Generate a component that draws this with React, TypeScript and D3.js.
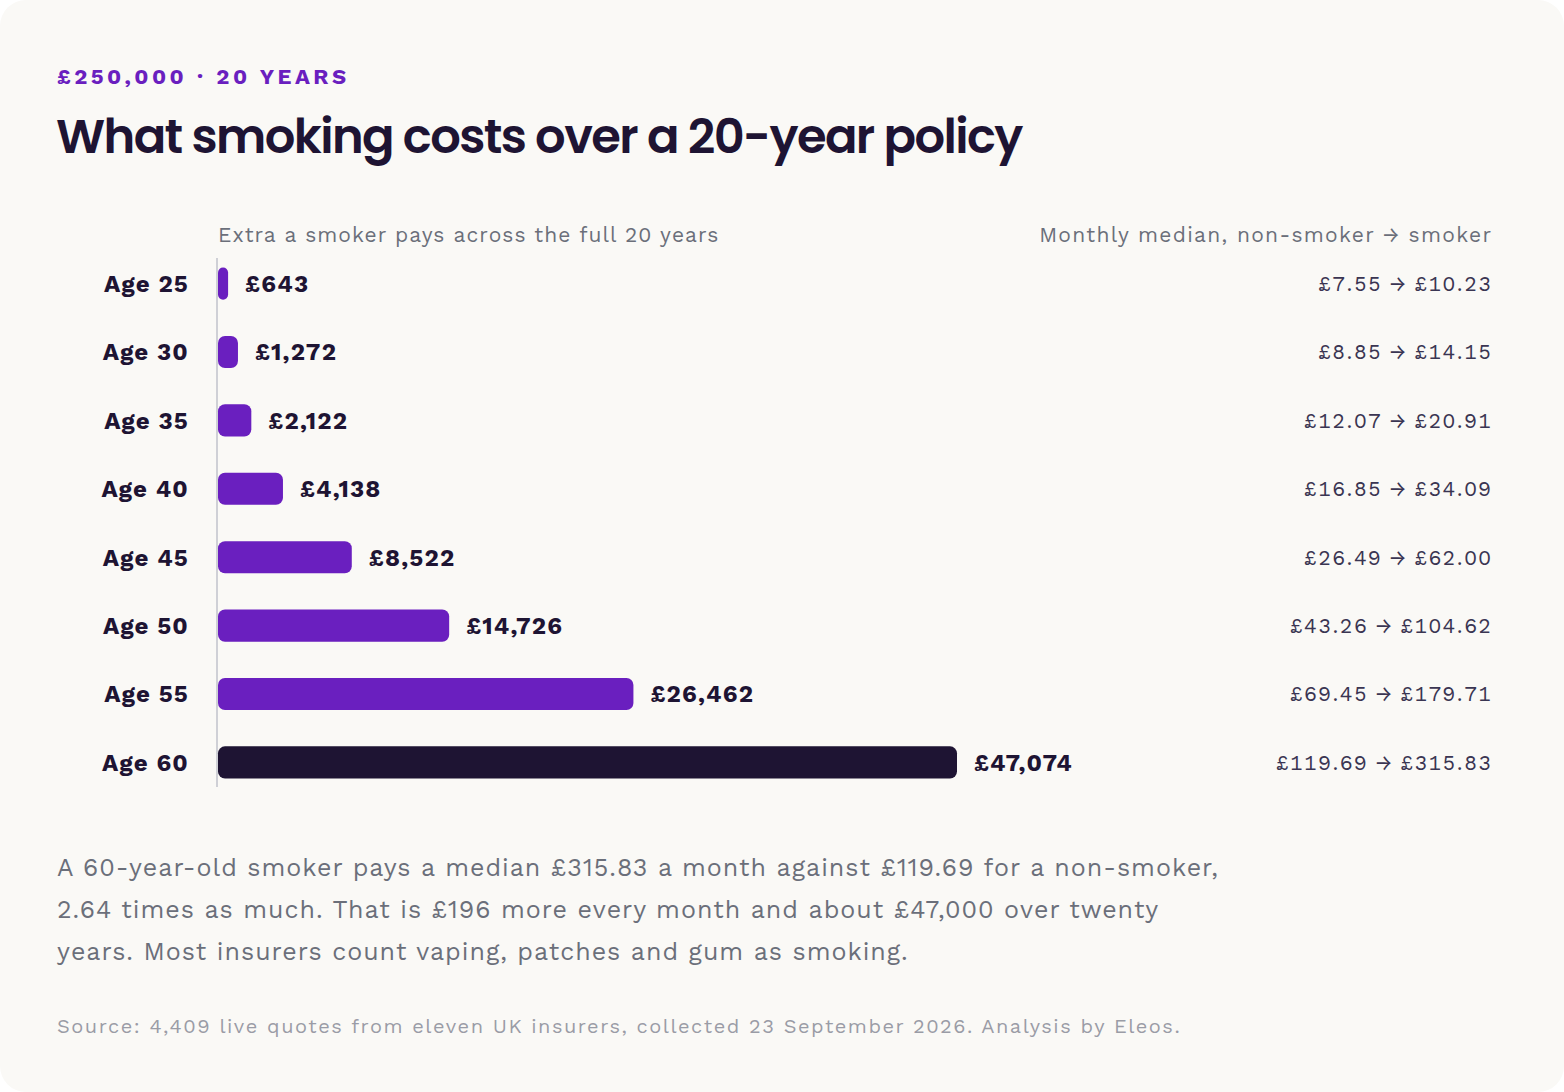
import React from 'react';
import * as d3 from 'd3';

const ages = ['Age 25', 'Age 30', 'Age 35', 'Age 40', 'Age 45', 'Age 50', 'Age 55', 'Age 60'];
const extraCost = [643, 1272, 2122, 4138, 8522, 14726, 26462, 47074];
const nonSmoker = [7.55, 8.85, 12.07, 16.85, 26.49, 43.26, 69.45, 119.69];
const smoker = [10.23, 14.15, 20.91, 34.09, 62.0, 104.62, 179.71, 315.83];

const eyebrow = '£250,000 · 20 YEARS';
const title = 'What smoking costs over a 20-year policy';
const leftHeader = 'Extra a smoker pays across the full 20 years';
const rightHeader = 'Monthly median, non-smoker → smoker';
const paragraph = [
  'A 60-year-old smoker pays a median £315.83 a month against £119.69 for a non-smoker,',
  '2.64 times as much. That is £196 more every month and about £47,000 over twenty',
  'years. Most insurers count vaping, patches and gum as smoking.',
];
const source = 'Source: 4,409 live quotes from eleven UK insurers, collected 23 September 2026. Analysis by Eleos.';

const W = 1564;
const H = 1092;
const FONT = '"Work Sans", Inter, "Noto Sans", sans-serif';
const PURPLE = '#6a1fbf';
const INK = '#1e1433';
const RIGHT = 1491;

export default function App() {
  document.body.style.margin = '0';

  const x = d3.scaleLinear().domain([0, d3.max(extraCost) as number]).range([218, 957]);
  const y = d3.scaleBand().domain(ages).range([249, 797]).paddingInner(0.53).paddingOuter(0.27);
  const money = d3.format(',');
  const pence = d3.format('.2f');
  const bh = y.bandwidth();

  return (
    <svg width={W} height={H} style={{ display: 'block', background: '#ffffff' }}>
      <rect x={0} y={0} width={W} height={H} rx={26} fill="#faf9f6" />

      <text x={57} y={84} fontFamily={FONT} fontSize={22} fontWeight={700} fill={PURPLE} letterSpacing={3.5}>
        {eyebrow}
      </text>
      <text x={56} y={153} fontFamily={'Poppins, Inter, sans-serif'} fontSize={48} fontWeight={600} fill={INK} letterSpacing={-1.6}>
        {title}
      </text>

      <text x={218} y={242} fontFamily={FONT} fontSize={21} fill="#6b6f7a" letterSpacing={1.05}>
        {leftHeader}
      </text>
      <text x={RIGHT + 1.3} y={242} textAnchor="end" fontFamily={FONT} fontSize={21} fill="#6b6f7a" letterSpacing={1.3}>
        {rightHeader}
      </text>

      <line x1={217} x2={217} y1={258} y2={787} stroke="#cfd0d6" strokeWidth={2} />

      {ages.map((a, i) => {
        const y0 = y(a) as number;
        const cy = y0 + bh / 2;
        const w = x(extraCost[i]) - x(0);
        const last = i === ages.length - 1;
        return (
          <g key={a}>
            <text x={188 + 0.8} y={cy} dy="0.35em" textAnchor="end" fontFamily={FONT} fontSize={24} fontWeight={700} fill={INK} letterSpacing={1}>
              {a}
            </text>
            <rect x={x(0)} y={y0} width={w} height={bh} rx={Math.min(7, w / 2)} fill={last ? INK : PURPLE} />
            <text x={x(extraCost[i]) + 17} y={cy} dy="0.35em" fontFamily={FONT} fontSize={24} fontWeight={700} fill={INK} letterSpacing={1.2}>
              £{money(extraCost[i])}
            </text>
            <text x={RIGHT + 1.35} y={cy} dy="0.35em" textAnchor="end" fontFamily={FONT} fontSize={21} fill="#3a3552" letterSpacing={1.35} style={{ fontVariantNumeric: 'tabular-nums' }}>
              £{pence(nonSmoker[i])} → £{pence(smoker[i])}
            </text>
          </g>
        );
      })}

      {paragraph.map((line, i) => (
        <text key={i} x={57} y={876 + i * 42} fontFamily={FONT} fontSize={25} fill="#6b6f7a" letterSpacing={1.0}>
          {line}
        </text>
      ))}

      <text x={57} y={1033} fontFamily={FONT} fontSize={20} fill="#9a9ca6" letterSpacing={1.5}>
        {source}
      </text>
    </svg>
  );
}
